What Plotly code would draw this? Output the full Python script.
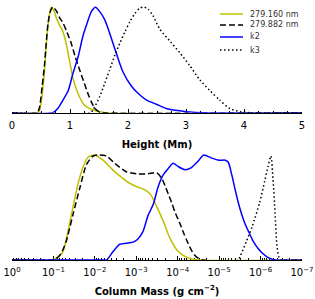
import plotly.graph_objects as go
from plotly.subplots import make_subplots

# ---- Top panel: height (Mm) ----
h_y = [0, 0.44, 0.48, 0.53, 0.56, 0.59, 0.62, 0.65, 0.68, 0.72, 0.77, 0.82, 0.86, 0.90, 0.94, 0.99, 1.05, 1.14, 1.25, 1.40, 1.60, 5.0]
v_y = [0, 0, 0.03, 0.22, 0.40, 0.63, 0.82, 0.94, 1.0, 0.97, 0.89, 0.83, 0.79, 0.73, 0.64, 0.50, 0.33, 0.18, 0.07, 0.025, 0, 0]

h_k = [0, 0.43, 0.47, 0.52, 0.56, 0.59, 0.62, 0.66, 0.70, 0.73, 0.77, 0.82, 0.88, 0.95, 1.02, 1.09, 1.17, 1.24, 1.31, 1.37, 1.43, 1.50, 1.60, 5.0]
v_k = [0, 0, 0.04, 0.25, 0.45, 0.66, 0.84, 0.96, 1.0, 0.99, 0.96, 0.90, 0.85, 0.76, 0.66, 0.53, 0.40, 0.29, 0.18, 0.10, 0.04, 0.01, 0, 0]

h_k2 = [0, 0.70, 0.79, 0.88, 0.97, 1.05, 1.14, 1.22, 1.29, 1.37, 1.44, 1.51, 1.60, 1.68, 1.80, 1.91, 2.06, 2.20, 2.32, 2.49, 2.66, 2.85, 3.01, 3.3, 5.0]
v_k2 = [0, 0, 0.04, 0.12, 0.21, 0.37, 0.53, 0.72, 0.84, 0.96, 1.0, 0.96, 0.88, 0.76, 0.56, 0.39, 0.25, 0.17, 0.12, 0.08, 0.04, 0.02, 0.01, 0, 0]

h_k3 = [0, 1.35, 1.40, 1.51, 1.60, 1.68, 1.77, 1.86, 1.95, 2.03, 2.12, 2.20, 2.28, 2.35, 2.43, 2.55, 2.72, 2.89, 3.06, 3.24, 3.41, 3.58, 3.75, 3.93, 4.1, 5.0]
v_k3 = [0, 0, 0.03, 0.15, 0.28, 0.40, 0.54, 0.66, 0.77, 0.86, 0.94, 0.99, 1.0, 0.98, 0.92, 0.79, 0.68, 0.57, 0.45, 0.31, 0.21, 0.12, 0.04, 0.01, 0, 0]

# ---- Bottom panel: column mass, given as -log10(g cm^-2) ----
m_y = [0, 0.95, 1.03, 1.13, 1.23, 1.35, 1.47, 1.59, 1.72, 1.84, 2.0, 2.2, 2.4, 2.6, 2.8, 3.0, 3.2, 3.35, 3.49, 3.65, 3.81, 4.01, 4.25, 4.5, 7]
w_y = [0, 0, 0.01, 0.03, 0.08, 0.27, 0.50, 0.72, 0.89, 0.98, 1.0, 0.95, 0.87, 0.80, 0.74, 0.70, 0.67, 0.62, 0.51, 0.37, 0.21, 0.08, 0.02, 0, 0]

m_k = [0, 0.95, 1.05, 1.18, 1.31, 1.47, 1.64, 1.80, 1.96, 2.10, 2.28, 2.48, 2.76, 3.04, 3.28, 3.49, 3.61, 3.69, 3.77, 3.85, 3.93, 4.05, 4.15, 4.25, 4.35, 4.45, 4.6, 7]
w_k = [0, 0, 0.01, 0.06, 0.18, 0.43, 0.69, 0.91, 0.99, 1.0, 0.99, 0.92, 0.84, 0.82, 0.82, 0.83, 0.78, 0.71, 0.63, 0.55, 0.46, 0.35, 0.25, 0.16, 0.08, 0.03, 0, 0]

m_k2 = [0, 2.2, 2.28, 2.44, 2.60, 2.76, 2.92, 3.04, 3.16, 3.28, 3.41, 3.53, 3.65, 3.77, 3.89, 4.01, 4.17, 4.33, 4.49, 4.63, 4.82, 5.0, 5.15, 5.22, 5.30, 5.38, 5.46, 5.54, 5.62, 5.70, 5.82, 5.94, 6.06, 6.20, 6.35, 7]
w_k2 = [0, 0, 0, 0.08, 0.15, 0.16, 0.17, 0.20, 0.27, 0.42, 0.53, 0.70, 0.81, 0.87, 0.92, 0.89, 0.86, 0.88, 0.94, 1.0, 0.97, 0.95, 0.95, 0.93, 0.82, 0.68, 0.55, 0.44, 0.35, 0.28, 0.18, 0.11, 0.06, 0.02, 0, 0]

m_k3 = [0, 5.45, 5.50, 5.66, 5.80, 5.98, 6.10, 6.18, 6.25, 6.30, 6.35, 6.39, 6.44, 6.50, 7]
w_k3 = [0, 0, 0.03, 0.18, 0.32, 0.55, 0.75, 0.89, 0.99, 0.77, 0.45, 0.16, 0.03, 0, 0]

names = ["279.160 nm", "279.882 nm", "k2", "k3"]
colors = ["#bfbf00", "#000000", "#0000ff", "#000000"]
dashes = ["solid", "6px,3px", "solid", "1.5px,2.5px"]

tick_exp = [0, 1, 2, 3, 4, 5, 6, 7]
tick_text = ["10<sup>0</sup>"] + ["10<sup>\u2212%d</sup>" % e for e in tick_exp[1:]]

FONT = "DejaVu Sans"

fig = make_subplots(rows=2, cols=1)

tops = [(h_y, v_y), (h_k, v_k), (h_k2, v_k2), (h_k3, v_k3)]
bots = [(m_y, w_y), (m_k, w_k), (m_k2, w_k2), (m_k3, w_k3)]

for i, (x, y) in enumerate(tops):
    fig.add_trace(go.Scatter(x=x, y=y, mode="lines", name=names[i],
                             line=dict(color=colors[i], width=1.5, dash=dashes[i], shape="spline", smoothing=0.7),
                             showlegend=False), row=1, col=1)
for i, (x, y) in enumerate(bots):
    fig.add_trace(go.Scatter(x=[10 ** (-v) for v in x], y=y, mode="lines", name=names[i],
                             line=dict(color=colors[i], width=1.5, dash=dashes[i], shape="spline", smoothing=0.7),
                             showlegend=False), row=2, col=1)

# legend drawn manually (compact rows as in the reference)
leg_rows = [0.9609, 0.9180, 0.8711, 0.8203]
for i, yy in enumerate(leg_rows):
    fig.add_shape(type="line", xref="paper", yref="paper", x0=0.7172, x1=0.7966, y0=yy, y1=yy,
                  line=dict(color=colors[i], width=1.5, dash=dashes[i]))
    fig.add_annotation(xref="paper", yref="paper", x=0.8138, y=yy, xanchor="left", yanchor="middle",
                       text=names[i], showarrow=False,
                       font=dict(family=FONT, size=8, color="#333333"))

axis_common = dict(showline=True, linecolor="black", linewidth=1, ticks="inside", ticklen=4,
                   tickcolor="black", tickwidth=1, showgrid=False, zeroline=False, mirror=False,
                   tickfont=dict(family=FONT, size=10, color="black"), layer="below traces",
                   ticklabelstandoff=3)

fig.update_xaxes(range=[0, 5], dtick=1, tick0=0,
                 minor=dict(ticks="inside", ticklen=2, dtick=0.25, tickcolor="black", showgrid=False),
                 title=dict(text="Height (Mm)", font=dict(family=FONT, size=10, color="black", weight="bold"), standoff=11),
                 domain=[0, 1], **axis_common, row=1, col=1)
fig.update_xaxes(type="log", range=[0, -7], tickvals=[10 ** (-e) for e in tick_exp], ticktext=tick_text,
                 minor=dict(ticks="inside", ticklen=2, dtick="D1", tickcolor="black", showgrid=False),
                 title=dict(text="Column Mass (g cm<sup>\u22122</sup>)", font=dict(family=FONT, size=10, color="black", weight="bold"), standoff=10),
                 domain=[0, 1], **axis_common, row=2, col=1)

fig.update_yaxes(visible=False, range=[0, 1.03], row=1, col=1, domain=[0.5754, 1.0])
fig.update_yaxes(visible=False, range=[0, 1.03], row=2, col=1, domain=[0.0, 0.4227])

fig.update_layout(
    width=315, height=299,
    margin=dict(l=12, r=13, t=4, b=39, autoexpand=False),
    paper_bgcolor="white", plot_bgcolor="white",
    font=dict(family=FONT, size=10, color="black"),
    showlegend=False,
)

fig.write_html("out.html", config={"displayModeBar": False},
               post_script="document.body.style.margin='0';")
